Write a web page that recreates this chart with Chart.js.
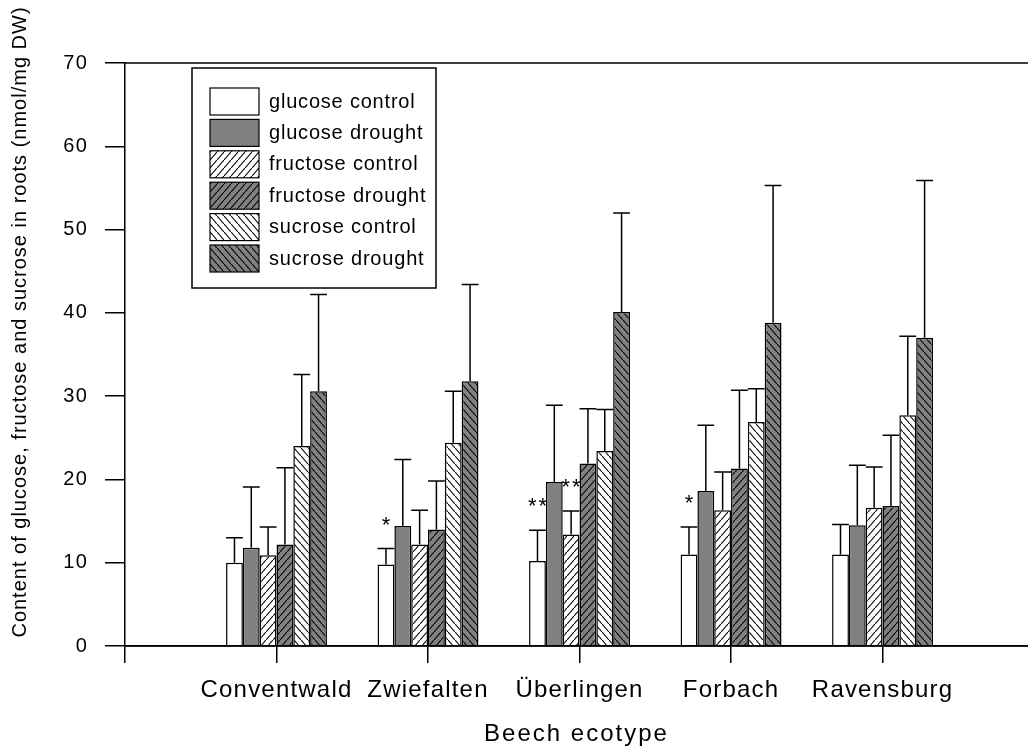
<!DOCTYPE html>
<html>
<head>
<meta charset="utf-8">
<script src="https://cdn.jsdelivr.net/npm/chart.js@4/dist/chart.umd.min.js"></script>
<style>
  html, body { margin: 0; padding: 0; background: #fff; }
  canvas { display: block; }
</style>
</head>
<body>
<canvas id="chart" width="1028" height="754"></canvas>
<script>
// Datos
const categories = ['Conventwald', 'Zwiefalten', 'Überlingen', 'Forbach', 'Ravensburg'];
const seriesLabels = ['glucose control', 'glucose drought', 'fructose control', 'fructose drought', 'sucrose control', 'sucrose drought'];

const glucoseControl  = [10.0, 9.8, 10.2, 11.0, 11.0];
const glucoseDrought  = [11.8, 14.4, 19.7, 18.6, 14.5];
const fructoseControl = [10.9, 12.2, 13.4, 16.3, 16.6];
const fructoseDrought = [12.2, 14.0, 21.9, 21.3, 16.8];
const sucroseControl  = [24.0, 24.4, 23.4, 26.9, 27.7];
const sucroseDrought  = [30.6, 31.8, 40.1, 38.8, 37.0];

// desviación estándar (solo hacia arriba)
const glucoseControlSD  = [3.0, 1.9, 3.7, 3.3, 3.6];
const glucoseDroughtSD  = [7.3, 8.0, 9.2, 7.9, 7.2];
const fructoseControlSD = [3.4, 4.1, 2.8, 4.6, 4.9];
const fructoseDroughtSD = [9.2, 5.8, 6.6, 9.4, 8.5];
const sucroseControlSD  = [8.6, 6.2, 5.0, 4.0, 9.5];
const sucroseDroughtSD  = [11.6, 11.6, 11.9, 16.5, 18.9];

// marcas de significancia
const glucoseControlSig  = ['', '*', '**', '*', ''];
const fructoseControlSig = ['', '', '**', '', ''];
const noSig = ['', '', '', '', ''];

const yTicks = [0, 10, 20, 30, 40, 50, 60, 70];

const canvas = document.getElementById('chart');
const ctx = canvas.getContext('2d');

// patrones de rayado
function hatch(bg, dir) {
  const w = 7, h = 8;
  const tile = document.createElement('canvas');
  tile.width = w; tile.height = h;
  const g = tile.getContext('2d');
  g.fillStyle = bg;
  g.fillRect(0, 0, w, h);
  g.strokeStyle = '#000';
  g.lineWidth = 1.1;
  g.beginPath();
  if (dir === '/') {
    g.moveTo(-1, h + h / w); g.lineTo(w + 1, -h / w);
  } else {
    g.moveTo(-1, -h / w); g.lineTo(w + 1, h + h / w);
  }
  g.stroke();
  return ctx.createPattern(tile, 'repeat');
}

const GRAY = '#808080';
const fills = [
  '#ffffff',
  GRAY,
  hatch('#ffffff', '/'),
  hatch(GRAY, '/'),
  hatch('#ffffff', '\\'),
  hatch(GRAY, '\\'),
];
const values = [glucoseControl, glucoseDrought, fructoseControl, fructoseDrought, sucroseControl, sucroseDrought];
const sds = [glucoseControlSD, glucoseDroughtSD, fructoseControlSD, fructoseDroughtSD, sucroseControlSD, sucroseDroughtSD];
const sigs = [glucoseControlSig, noSig, fructoseControlSig, noSig, noSig, noSig];

const datasets = seriesLabels.map((label, s) => ({
  label: label,
  data: values[s].map((v, i) => ({ x: i + 1, y: v })),
  sd: sds[s],
  sig: sigs[s],
  backgroundColor: fills[s],
  borderColor: '#000',
  borderWidth: 1.5,
  categoryPercentage: 0.666,
  barPercentage: 1.0,
}));

Chart.defaults.font.family = "'Liberation Sans', Arial, sans-serif";
Chart.defaults.color = '#000';

// espaciado de letras global (el original está estirado en horizontal)
const spacing = {
  id: 'spacing',
  beforeUpdate(chart) { chart.ctx.letterSpacing = '1.2px'; },
  beforeDraw(chart) { chart.ctx.letterSpacing = '1.2px'; },
};

// barras de error, asteriscos y marco
const errorBars = {
  id: 'errorBars',
  afterDatasetsDraw(chart) {
    const c = chart.ctx, y = chart.scales.y, ca = chart.chartArea;
    c.save();
    c.strokeStyle = '#000';
    c.lineWidth = 1.5;
    c.fillStyle = '#000';
    chart.data.datasets.forEach((ds, di) => {
      chart.getDatasetMeta(di).data.forEach((bar, i) => {
        const top = y.getPixelForValue(ds.data[i].y + ds.sd[i]);
        const hw = bar.width / 2;
        c.beginPath();
        c.moveTo(bar.x, bar.y);
        c.lineTo(bar.x, top);
        c.moveTo(bar.x - hw, top);
        c.lineTo(bar.x + hw, top);
        c.stroke();
        if (ds.sig[i]) {
          c.font = "22px 'Liberation Sans', Arial";
          c.letterSpacing = '2px';
          c.textAlign = 'center';
          c.textBaseline = 'alphabetic';
          c.fillText(ds.sig[i], bar.x + 1, top - 29 + 12);
        }
      });
    });
    // eje inferior y línea superior
    c.beginPath();
    c.moveTo(ca.left, ca.bottom); c.lineTo(ca.right, ca.bottom);
    c.moveTo(ca.left, ca.top); c.lineTo(ca.right, ca.top);
    c.stroke();
    c.restore();
  },
  afterDraw(chart) {
    const c = chart.ctx, ca = chart.chartArea;
    c.save();
    // leyenda
    const bx = ca.left + 67, by = ca.top + 5, bw = 244, bh = 220;
    c.fillStyle = '#fff';
    c.fillRect(bx, by, bw, bh);
    c.strokeStyle = '#000';
    c.lineWidth = 1.5;
    c.strokeRect(bx, by, bw, bh);
    c.font = "20px 'Liberation Sans', Arial";
    c.letterSpacing = '0.8px';
    c.textBaseline = 'middle';
    c.textAlign = 'left';
    chart.data.datasets.forEach((ds, i) => {
      const ry = by + 20 + i * 31.4;
      c.fillStyle = ds.backgroundColor;
      c.fillRect(bx + 18, ry, 49, 27);
      c.lineWidth = 1.2;
      c.strokeRect(bx + 18, ry, 49, 27);
      c.fillStyle = '#000';
      c.fillText(ds.label, bx + 77, ry + 14);
    });
    // títulos de ejes
    c.font = "24px 'Liberation Sans', Arial";
    c.letterSpacing = '2px';
    c.textAlign = 'center';
    c.fillText('Beech ecotype', (ca.left + ca.right) / 2, 734);
    c.translate(20, 322);
    c.rotate(-Math.PI / 2);
    c.font = "20px 'Liberation Sans', Arial";
    c.letterSpacing = '1px';
    c.fillText('Content of glucose, fructose and sucrose in roots (nmol/mg DW)', 0, 0);
    c.restore();
  },
};

new Chart(canvas, {
  type: 'bar',
  data: { datasets: datasets },
  options: {
    responsive: false,
    animation: false,
    events: [],
    layout: { padding: { top: 63, right: 0, left: 0, bottom: 0 } },
    plugins: {
      legend: { display: false },
      tooltip: { enabled: false },
    },
    scales: {
      x: {
        type: 'linear',
        min: 0,
        max: 5.96,
        offset: false,
        grid: { display: true, offset: false, drawOnChartArea: false, drawTicks: true, tickLength: 17, color: '#000', lineWidth: 1.5 },
        border: { display: true, color: '#000', width: 1.5 },
        ticks: {
          stepSize: 1,
          autoSkip: false,
          maxRotation: 0,
          padding: 13,
          color: '#000',
          font: { size: 24 },
          callback: v => categories[v - 1] || '',
        },
        afterBuildTicks: s => { s.ticks = s.ticks.filter(t => Number.isInteger(t.value)); },
        afterFit: s => { s.height = 108; },
      },
      y: {
        min: 0,
        max: 70,
        grid: { display: true, drawOnChartArea: false, drawTicks: true, tickLength: 20, color: '#000', lineWidth: 1.5 },
        border: { display: true, color: '#000', width: 1.5 },
        ticks: { stepSize: 10, padding: 17, color: '#000', font: { size: 20 } },
        afterBuildTicks: s => { s.ticks = yTicks.map(v => ({ value: v })); },
        afterFit: s => { s.width = 125; },
      },
    },
  },
  plugins: [spacing, errorBars],
});
</script>
</body>
</html>
